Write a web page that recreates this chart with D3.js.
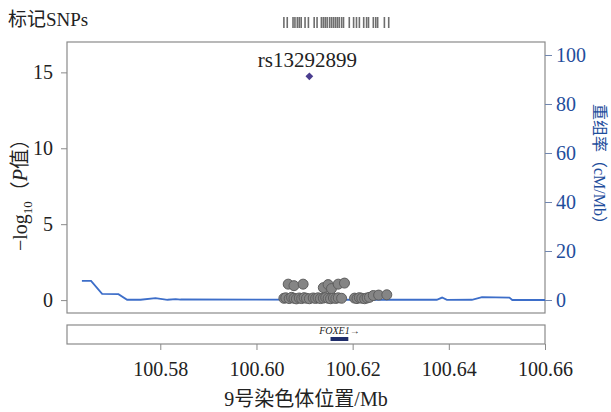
<!DOCTYPE html>
<html>
<head>
<meta charset="utf-8">
<script src="https://cdn.jsdelivr.net/npm/d3@7"></script>
<style>
  body { margin: 0; background: #fff; }
  svg { font-family: "Liberation Serif", "Noto Sans CJK SC", serif; }
</style>
</head>
<body>
<div id="chart"></div>
<script>
// SNP positions (Mb) and -log10 P
var snpPos = [100.6057, 100.6061, 100.6068, 100.6073, 100.6078, 100.6083, 100.6089, 100.6094, 100.6099,
  100.6104, 100.6110, 100.6118, 100.6123, 100.6128, 100.6133, 100.6139, 100.6144, 100.6149, 100.6154,
  100.6160, 100.6165, 100.6170, 100.6177, 100.6204, 100.6209, 100.6214, 100.6219, 100.6225, 100.6230,
  100.6235, 100.6243, 100.6254, 100.6271,
  100.6066, 100.6078, 100.6097, 100.6139, 100.6149, 100.6156, 100.6170, 100.6183];
var snpLogP = [0.12, 0.15, 0.10, 0.18, 0.12, 0.08, 0.14, 0.10, 0.16,
  0.12, 0.09, 0.14, 0.11, 0.15, 0.10, 0.13, 0.17, 0.12, 0.09,
  0.14, 0.11, 0.15, 0.12, 0.13, 0.10, 0.16, 0.12, 0.09, 0.14,
  0.18, 0.30, 0.33, 0.35,
  1.05, 0.95, 1.05, 0.82, 1.02, 0.76, 1.05, 1.12];

var leadName = "rs13292899";
var leadPos = 100.6110;
var leadLogP = 14.74;

// marker SNPs shown as rug on top
var markerPos = [100.6057, 100.6064, 100.6076, 100.6080, 100.6085, 100.6089, 100.6093, 100.6101, 100.6108,
  100.6120, 100.6126, 100.6135, 100.6139, 100.6143, 100.6147, 100.6152, 100.6156, 100.6160, 100.6164,
  100.6168, 100.6172, 100.6177, 100.6181, 100.6193, 100.6202, 100.6208, 100.6214, 100.6223, 100.6229,
  100.6233, 100.6243, 100.6248, 100.6252, 100.6266, 100.6275];

// recombination rate (cM/Mb)
var recPos = [100.5637, 100.5656, 100.5679, 100.5713, 100.5731, 100.5759, 100.5790, 100.5815, 100.5832,
  100.5842, 100.6000, 100.6200, 100.6375, 100.6386, 100.6396, 100.6448, 100.6469, 100.6526, 100.6532, 100.6600];
var recRate = [7.8, 7.8, 2.5, 2.4, 0.1, 0.1, 0.8, 0.1, 0.4,
  0.2, 0.15, 0.1, 0.1, 1.0, 0.05, 0.1, 1.2, 1.0, 0.0, 0.0];

var geneName = "FOXE1";
var geneStart = 100.6154;
var geneEnd = 100.6191;

var xTicks = [100.58, 100.60, 100.62, 100.64, 100.66];
var yTicks = [0, 5, 10, 15];
var rTicks = [0, 20, 40, 60, 80, 100];

var W = 611, H = 412;
var blue = "#1f4e9c";

var svg = d3.select("#chart").append("svg")
  .attr("width", W)
  .attr("height", H);

// scales
var x = d3.scaleLinear().domain([100.5606, 100.66]).range([67, 545]);
var y = d3.scaleLinear().domain([-0.85, 17]).range([313, 42]);
var yR = d3.scaleLinear().domain([-5.3, 105.3]).range([313, 42]);

// plot frame
svg.append("rect")
  .attr("x", x.range()[0]).attr("y", y.range()[1])
  .attr("width", x.range()[1] - x.range()[0])
  .attr("height", y.range()[0] - y.range()[1])
  .style("fill", "none").style("stroke", "#8a8a8a").style("stroke-width", 1.2);

// left axis
var gl = svg.append("g")
  .attr("transform", "translate(" + x.range()[0] + ",0)")
  .call(d3.axisLeft(y).tickValues(yTicks).tickSize(6).tickPadding(8));
gl.select(".domain").remove();
gl.selectAll("line").style("stroke", "#8a8a8a");
gl.selectAll("text").style("font-size", "20px").style("fill", "#222")
  .style("font-family", "Liberation Serif");

// right axis
var gr = svg.append("g")
  .attr("transform", "translate(" + x.range()[1] + ",0)")
  .call(d3.axisRight(yR).tickValues(rTicks).tickSize(7).tickPadding(4));
gr.select(".domain").remove();
gr.selectAll("line").style("stroke", "#7086b0");
gr.selectAll("text").style("font-size", "20px").style("fill", blue)
  .style("font-family", "Liberation Serif");

// recombination line
var recData = recPos.map(function(d, i) { return {pos: d, rate: recRate[i]}; });
svg.append("path")
  .datum(recData)
  .attr("d", d3.line()
    .x(function(d) { return x(d.pos); })
    .y(function(d) { return yR(d.rate); }))
  .style("fill", "none")
  .style("stroke", "#3d6ec9")
  .style("stroke-width", 1.8);

// SNP points
var snps = snpPos.map(function(d, i) { return {pos: d, p: snpLogP[i]}; });
svg.selectAll(".snp")
  .data(snps)
  .enter()
  .append("circle")
  .attr("class", "snp")
  .attr("cx", function(d) { return x(d.pos); })
  .attr("cy", function(d) { return y(d.p); })
  .attr("r", 5)
  .style("fill", "#858585")
  .style("stroke", "#5e5e5e")
  .style("stroke-width", 1);

// lead SNP (square turned 45 deg)
svg.append("path")
  .attr("d", d3.symbol().type(d3.symbolSquare).size(30))
  .attr("transform", "translate(" + x(leadPos) + "," + y(leadLogP) + ") rotate(45)")
  .style("fill", "#4a3d8f");
svg.append("text")
  .attr("x", x(leadPos) - 2)
  .attr("y", y(leadLogP) - 9)
  .style("text-anchor", "middle")
  .style("font-size", "21px")
  .style("fill", "#222")
  .text(leadName);

// marker SNP rug
svg.selectAll(".rug")
  .data(markerPos)
  .enter()
  .append("rect")
  .attr("class", "rug")
  .attr("x", function(d) { return x(d) - 0.8; })
  .attr("y", 17)
  .attr("width", 1.6)
  .attr("height", 11)
  .style("fill", "#555")
  .style("opacity", 0.85);

svg.append("text")
  .attr("x", 8).attr("y", 26)
  .style("font-size", "19px")
  .style("fill", "#222")
  .text("标记SNPs");

// gene track
svg.append("rect")
  .attr("x", x.range()[0]).attr("y", 325)
  .attr("width", x.range()[1] - x.range()[0]).attr("height", 19)
  .style("fill", "#fff").style("stroke", "#8a8a8a").style("stroke-width", 1.2);
svg.append("rect")
  .attr("x", x(geneStart)).attr("y", 337)
  .attr("width", x(geneEnd) - x(geneStart)).attr("height", 4)
  .style("fill", "#1f2d6b");
svg.append("text")
  .attr("x", (x(geneStart) + x(geneEnd)) / 2)
  .attr("y", 334)
  .style("text-anchor", "middle")
  .style("font-size", "10px")
  .style("font-style", "italic")
  .style("fill", "#222")
  .text(geneName + "→");

// bottom axis
var gx = svg.append("g")
  .attr("transform", "translate(0,344)")
  .call(d3.axisBottom(x).tickValues(xTicks).tickSize(6).tickPadding(12).tickFormat(d3.format(".2f")));
gx.select(".domain").remove();
gx.selectAll("line").style("stroke", "#8a8a8a");
gx.selectAll("text").style("font-size", "20px").style("fill", "#222")
  .style("font-family", "Liberation Serif");

// axis titles
svg.append("text")
  .attr("x", 306).attr("y", 406)
  .style("text-anchor", "middle")
  .style("font-size", "20px")
  .style("fill", "#222")
  .text("9号染色体位置/Mb");

var lt = svg.append("text")
  .attr("transform", "translate(27,190) rotate(-90)")
  .style("text-anchor", "middle")
  .style("font-size", "20px")
  .style("fill", "#222");
lt.append("tspan").text("−log");
lt.append("tspan").attr("dy", 5).style("font-size", "13px").text("10");
lt.append("tspan").attr("dy", -5).text("（");
lt.append("tspan").style("font-style", "italic").text("P");
lt.append("tspan").text("值）");

svg.append("text")
  .attr("transform", "translate(594,168) rotate(90)")
  .style("text-anchor", "middle")
  .style("font-size", "16px")
  .style("fill", blue)
  .text("重组率（cM/Mb）");
</script>
</body>
</html>
